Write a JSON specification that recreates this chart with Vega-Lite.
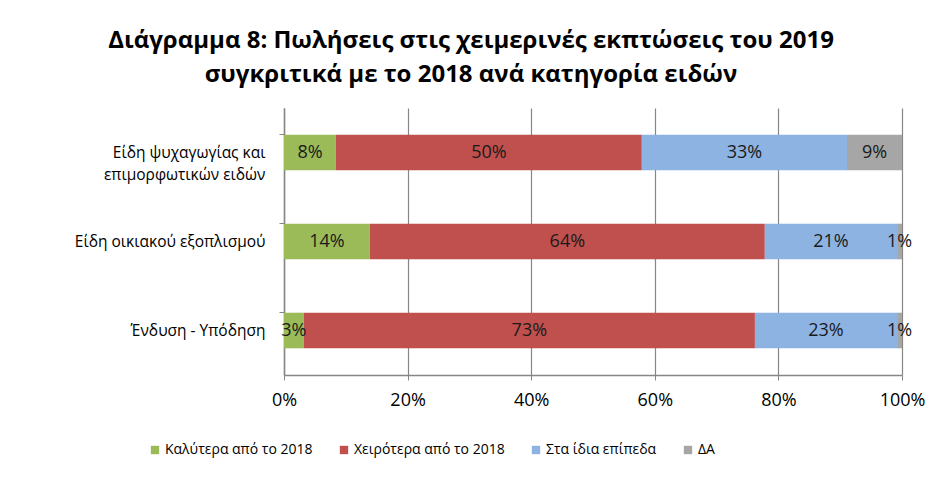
{
  "$schema": "https://vega.github.io/schema/vega-lite/v6.json",
  "width": 618,
  "height": 267,
  "autosize": {"type": "none"},
  "padding": {"left": 284, "top": 108, "right": 40, "bottom": 109},
  "background": "#ffffff",
  "title": {
    "text": ["Διάγραμμα 8: Πωλήσεις στις χειμερινές εκπτώσεις του 2019", "συγκριτικά με το 2018 ανά κατηγορία ειδών"],
    "font": "Open Sans",
    "fontSize": 24,
    "fontWeight": "bold",
    "color": "#000000",
    "lineHeight": 34,
    "anchor": "middle",
    "dx": -122,
    "offset": 21
  },
  "data": {
    "values": [
      {"cat": "Είδη ψυχαγωγίας και επιμορφωτικών ειδών", "series": "Καλύτερα από το 2018", "o": 1, "v": 0.084},
      {"cat": "Είδη ψυχαγωγίας και επιμορφωτικών ειδών", "series": "Χειρότερα από το 2018", "o": 2, "v": 0.495},
      {"cat": "Είδη ψυχαγωγίας και επιμορφωτικών ειδών", "series": "Στα ίδια επίπεδα", "o": 3, "v": 0.332},
      {"cat": "Είδη ψυχαγωγίας και επιμορφωτικών ειδών", "series": "ΔΑ", "o": 4, "v": 0.089},
      {"cat": "Είδη οικιακού εξοπλισμού", "series": "Καλύτερα από το 2018", "o": 1, "v": 0.139},
      {"cat": "Είδη οικιακού εξοπλισμού", "series": "Χειρότερα από το 2018", "o": 2, "v": 0.639},
      {"cat": "Είδη οικιακού εξοπλισμού", "series": "Στα ίδια επίπεδα", "o": 3, "v": 0.214},
      {"cat": "Είδη οικιακού εξοπλισμού", "series": "ΔΑ", "o": 4, "v": 0.008},
      {"cat": "Ένδυση - Υπόδηση", "series": "Καλύτερα από το 2018", "o": 1, "v": 0.032},
      {"cat": "Ένδυση - Υπόδηση", "series": "Χειρότερα από το 2018", "o": 2, "v": 0.73},
      {"cat": "Ένδυση - Υπόδηση", "series": "Στα ίδια επίπεδα", "o": 3, "v": 0.23},
      {"cat": "Ένδυση - Υπόδηση", "series": "ΔΑ", "o": 4, "v": 0.008}
    ]
  },
  "encoding": {
    "y": {
      "field": "cat",
      "type": "nominal",
      "sort": ["Είδη ψυχαγωγίας και επιμορφωτικών ειδών", "Είδη οικιακού εξοπλισμού", "Ένδυση - Υπόδηση"],
      "scale": {"paddingInner": 0.6, "paddingOuter": 0.3},
      "axis": {
        "title": null,
        "bandPosition": 0,
        "labelExpr": "datum.value == 'Είδη ψυχαγωγίας και επιμορφωτικών ειδών' ? ['Είδη ψυχαγωγίας και', 'επιμορφωτικών ειδών'] : datum.label",
        "labelFont": "Open Sans",
        "labelFontSize": 15.5,
        "labelColor": "#000000",
        "labelLineHeight": 22,
        "labelPadding": 14,
        "labelLimit": 400,
        "tickSize": 5,
        "tickColor": "#868686",
        "domainColor": "#868686",
        "domainWidth": 1.5,
        "grid": false
      }
    },
    "x": {
      "field": "v",
      "type": "quantitative",
      "stack": "normalize",
      "scale": {"domain": [0, 1]},
      "axis": {
        "title": null,
        "format": ".0%",
        "values": [0, 0.2, 0.4, 0.6, 0.8, 1],
        "labelFont": "Open Sans",
        "labelFontSize": 18,
        "labelColor": "#000000",
        "labelPadding": 11,
        "labelFlush": false,
        "tickSize": 5,
        "tickColor": "#868686",
        "domainColor": "#868686",
        "domainWidth": 1.5,
        "grid": true,
        "gridColor": "#868686",
        "gridWidth": 1.2
      }
    },
    "order": {"field": "o", "type": "quantitative"}
  },
  "layer": [
    {
      "mark": {"type": "bar"},
      "encoding": {
        "color": {
          "field": "series",
          "type": "nominal",
          "sort": ["Καλύτερα από το 2018", "Χειρότερα από το 2018", "Στα ίδια επίπεδα", "ΔΑ"],
          "scale": {
            "domain": ["Καλύτερα από το 2018", "Χειρότερα από το 2018", "Στα ίδια επίπεδα", "ΔΑ"],
            "range": ["#9BBB59", "#C0504D", "#8DB3E2", "#A6A6A6"]
          },
          "legend": {
            "title": null,
            "orient": "none",
            "direction": "horizontal",
            "legendX": -136,
            "legendY": 335,
            "symbolType": "square",
            "symbolSize": 70,
            "symbolStrokeWidth": 0,
            "labelFont": "Open Sans",
            "labelFontSize": 14,
            "labelColor": "#000000",
            "labelLimit": 400,
            "labelOffset": 3,
            "columnPadding": 24
          }
        }
      }
    },
    {
      "mark": {"type": "text", "font": "Open Sans", "fontSize": 18, "color": "#1a1a1a", "align": "center", "baseline": "middle"},
      "encoding": {
        "x": {"field": "v", "type": "quantitative", "stack": "normalize", "bandPosition": 0.5},
        "detail": {"field": "series", "type": "nominal"},
        "text": {"field": "v", "type": "quantitative", "format": ".0%"}
      }
    }
  ],
  "config": {"view": {"stroke": null}}
}
